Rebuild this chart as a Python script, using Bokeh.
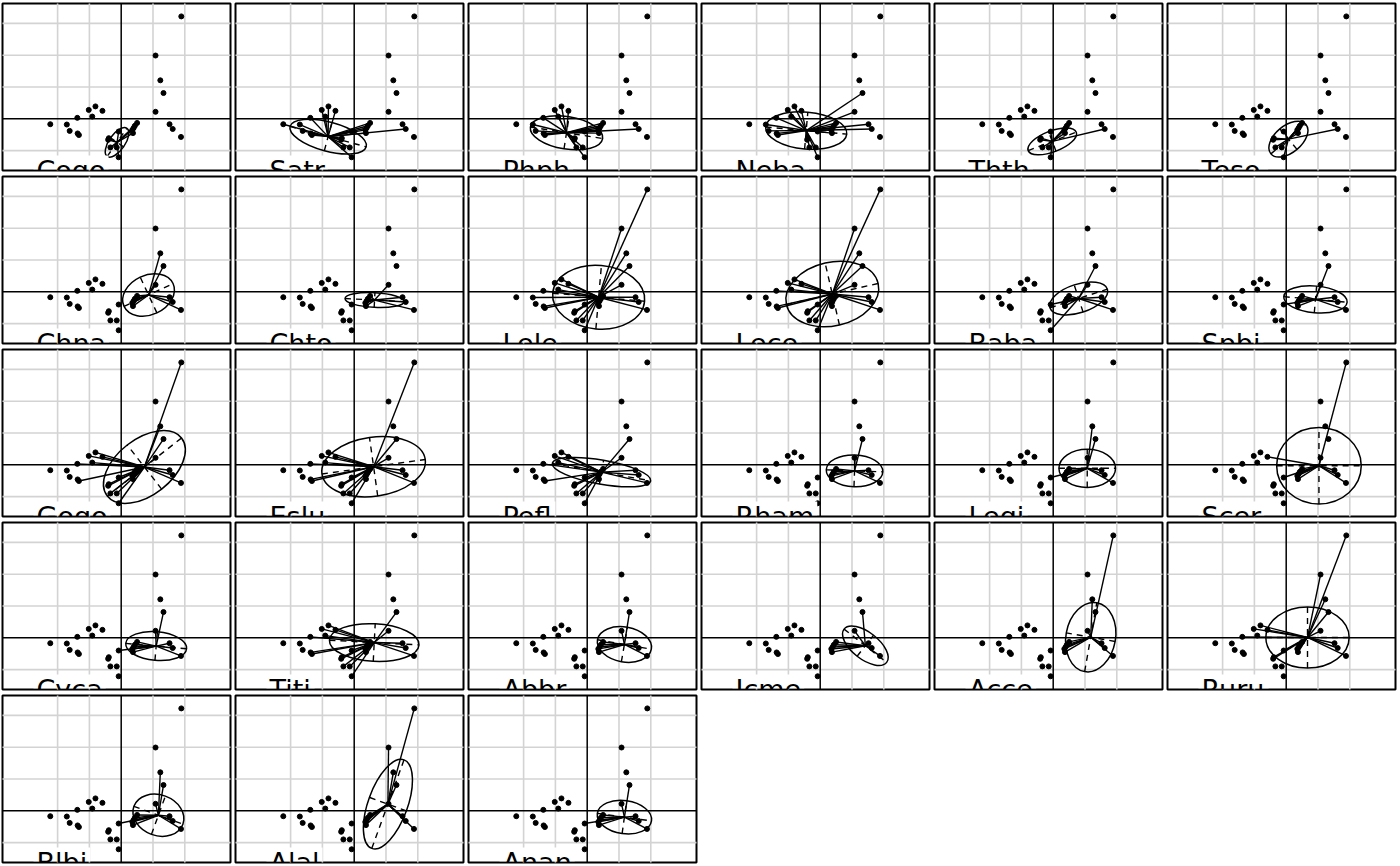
import math
from bokeh.plotting import figure
from bokeh.layouts import gridplot
from bokeh.embed import file_html
from bokeh.resources import INLINE
from bokeh.models import Range1d
from bokeh.core.properties import value

# ---- site scores (common background points, grid units) ----
site_x = [1.89, 1.08, 1.23, 1.33, 1.08, 1.52, 1.62, 1.88,
          -2.23, -1.71, -1.62, -1.37, -1.33, -1.38, -1.02, -0.81, -0.59, -0.91,
          -0.08, -0.39, -0.41, -0.34, -0.14, -0.08,
          0.50, 0.43, 0.39, 0.35, 0.37]
site_y = [3.22, 1.99, 1.21, 0.81, 0.22, -0.17, -0.32, -0.57,
          -0.17, -0.18, -0.38, -0.46, -0.51, 0.03, 0.28, 0.39, 0.25, 0.07,
          -0.40, -0.61, -0.66, -0.90, -0.90, -1.21,
          -0.13, -0.22, -0.29, -0.35, -0.45]

species = ["Cogo", "Satr", "Phph", "Neba", "Thth", "Teso",
           "Chna", "Chto", "Lele", "Lece", "Baba", "Spbi",
           "Gogo", "Eslu", "Pefl", "Rham", "Legi", "Scer",
           "Cyca", "Titi", "Abbr", "Icme", "Acce", "Ruru",
           "Blbi", "Alal", "Anan"]
center_x = [-0.13, -0.82, -0.65, -0.44, -0.03, 0.07,
            0.86, 0.64, 0.36, 0.38, 0.80, 0.92,
            0.73, 0.61, 0.45, 1.08, 1.07, 1.03,
            1.10, 0.63, 1.17, 1.42, 1.18, 0.67,
            1.17, 1.06, 1.17]
center_y = [-0.74, -0.56, -0.44, -0.37, -0.71, -0.64,
            -0.10, -0.26, -0.17, -0.07, -0.21, -0.24,
            -0.07, -0.06, -0.23, -0.19, -0.11, -0.03,
            -0.26, -0.15, -0.21, -0.25, 0.02, 0.01,
            -0.14, 0.21, -0.20]
ell_a = [0.54, 1.24, 1.15, 1.28, 0.81, 0.72,
         0.85, 0.93, 1.45, 1.48, 0.95, 1.00,
         1.48, 1.64, 1.57, 0.89, 0.89, 1.33,
         0.96, 1.41, 0.86, 0.85, 1.10, 1.31,
         0.82, 1.48, 0.86]
ell_b = [0.25, 0.46, 0.51, 0.58, 0.33, 0.42,
         0.62, 0.23, 1.00, 1.00, 0.45, 0.42,
         0.88, 0.93, 0.38, 0.50, 0.60, 1.20,
         0.45, 0.59, 0.55, 0.42, 0.78, 0.96,
         0.64, 0.62, 0.52]
ell_deg = [55, -15, -9, -5, 21, 40,
           25, -3, -5, 13, 18, -5,
           38, 8, -10, -2, 0, 0,
           -5, -3, -10, -38, 80, 0,
           -20, 70, -8]

def r(a, b):
    return list(range(a, b + 1))

members = [
    [19, 20, 21, 22, 23, 24, 26, 27, 28, 29],          # Cogo
    [7] + r(9, 29),                                    # Satr
    [7] + r(10, 29),                                   # Phph
    [4, 5, 6, 7] + r(10, 29),                          # Neba
    [7] + r(19, 29),                                   # Thth
    [7] + r(19, 29),                                   # Teso
    r(3, 8) + r(25, 29),                               # Chna
    r(5, 8) + r(25, 29),                               # Chto
    r(1, 8) + [10] + r(12, 29),                        # Lele
    r(1, 8) + r(12, 29),                               # Lece
    r(4, 8) + [19, 24] + r(25, 29),                    # Baba
    r(4, 8) + [19] + r(25, 29),                        # Spbi
    [1] + r(3, 8) + r(13, 29),                         # Gogo
    [1] + r(4, 8) + r(12, 29),                         # Eslu
    r(4, 8) + r(13, 29),                               # Pefl
    r(4, 8) + r(25, 29),                               # Rham
    r(3, 8) + [19] + r(25, 29),                        # Legi
    [1, 5, 6, 7, 8, 17, 19] + r(25, 29),               # Scer
    r(4, 8) + [19] + r(25, 29),                        # Cyca
    r(4, 8) + r(12, 29),                               # Titi
    r(4, 8) + r(25, 29),                               # Abbr
    r(4, 8) + r(25, 29),                               # Icme
    [1, 3, 5, 6, 7, 8] + r(25, 29),                    # Acce
    r(1, 8) + [14, 15, 16, 17, 19, 20, 21] + r(25, 29),# Ruru
    r(3, 8) + [19] + r(25, 29),                        # Blbi
    [1, 2, 3, 4, 6, 7, 8] + r(25, 29),                 # Alal
    r(4, 8) + [19] + r(25, 29),                        # Anan
]

grid_x = [-2, -1, 1, 2]
grid_y = [-1, 1, 2, 3]

# ---- geometry of a panel ----
UNIT = 31.8
FW, FH = 228, 167
OX, OY = 118.7, 115.3
X0, X1 = -OX / UNIT, (FW - OX) / UNIT
Y0, Y1 = -(FH - OY) / UNIT, OY / UNIT
NCOL = 6
FONT_PX = 27
# approximate DejaVu Sans advance widths (em) for sizing the label's white box
ADV = {"A": .684, "B": .686, "C": .698, "E": .632, "G": .775, "I": .295, "L": .557,
       "N": .748, "P": .603, "R": .695, "S": .635, "T": .611,
       "a": .613, "b": .635, "c": .550, "e": .615, "f": .352, "g": .635, "h": .634,
       "i": .278, "l": .278, "m": .974, "n": .634, "o": .612, "p": .635, "r": .411,
       "s": .521, "t": .392, "u": .634, "y": .592}


def make_panel(k, h):
    p = figure(width=233, height=h, output_backend="svg", toolbar_location=None,
               x_range=Range1d(X0, X1), y_range=Range1d(Y0, Y1),
               x_axis_location=None, y_axis_location=None,
               min_border_left=1, min_border_right=4, min_border_top=1,
               min_border_bottom=h - 168,
               background_fill_color="white", border_fill_color="white",
               outline_line_color="black", outline_line_width=2)
    p.xgrid.visible = False
    p.ygrid.visible = False
    # grid
    p.segment(x0=grid_x, y0=[Y0 - 1] * len(grid_x), x1=grid_x, y1=[Y1 + 1] * len(grid_x),
              line_color="#d3d3d3", line_width=1.6)
    p.segment(x0=[X0 - 1] * len(grid_y), y0=grid_y, x1=[X1 + 1] * len(grid_y), y1=grid_y,
              line_color="#d3d3d3", line_width=1.6)
    # axes through origin
    p.segment(x0=[0, X0 - 1], y0=[Y0 - 1, 0], x1=[0, X1 + 1], y1=[Y1 + 1, 0],
              line_color="black", line_width=1.5)
    cx, cy = center_x[k], center_y[k]
    a, b = ell_a[k], ell_b[k]
    th = math.radians(ell_deg[k])
    # star
    mem = members[k]
    p.segment(x0=[cx] * len(mem), y0=[cy] * len(mem),
              x1=[site_x[m - 1] for m in mem], y1=[site_y[m - 1] for m in mem],
              line_color="black", line_width=1.4)
    # ellipse
    p.ellipse(x=[cx], y=[cy], width=[2 * a], height=[2 * b], angle=[th],
              fill_color=None, line_color="black", line_width=1.5)
    # ellipse axes (dashed)
    ca, sa = math.cos(th), math.sin(th)
    p.segment(x0=[cx - a * ca, cx + b * sa], y0=[cy - a * sa, cy - b * ca],
              x1=[cx + a * ca, cx - b * sa], y1=[cy + a * sa, cy + b * ca],
              line_color="black", line_width=1.4, line_dash="6 5")
    # points
    p.scatter(x=site_x, y=site_y, size=5, fill_color="black", line_color="black")
    # label with white box (stops just above the panel's bottom border)
    name = species[k]
    tw = sum(ADV.get(ch, 0.6) for ch in name) * FONT_PX
    bl = X0 + 31 / UNIT
    br = X0 + (34 + tw + 3) / UNIT
    bt = Y1 - 152 / UNIT
    p.quad(left=[bl], right=[br], top=[bt], bottom=[Y0 + 1.2 / UNIT],
           fill_color="white", line_color=None)
    lx = X0 + 34 / UNIT
    ly = Y1 - 167.0 / UNIT
    p.text(x=[lx], y=[ly], text=[name], text_font=value("DejaVu Sans"),
           text_font_size=f"{FONT_PX}px", text_color="black", text_align="left",
           text_baseline="alphabetic")
    return p


panels = []
nrows = math.ceil(len(species) / NCOL)
for k in range(len(species)):
    row = k // NCOL
    h = 171 if row == nrows - 1 else 173
    panels.append(make_panel(k, h))

rows = []
for rr in range(nrows):
    rw = panels[rr * NCOL:(rr + 1) * NCOL]
    rw = rw + [None] * (NCOL - len(rw))
    rows.append(rw)

grid = gridplot(rows, toolbar_location=None)
grid.margin = (2, 0, 0, 1)

open("out.html", "w").write(file_html(grid, INLINE))
